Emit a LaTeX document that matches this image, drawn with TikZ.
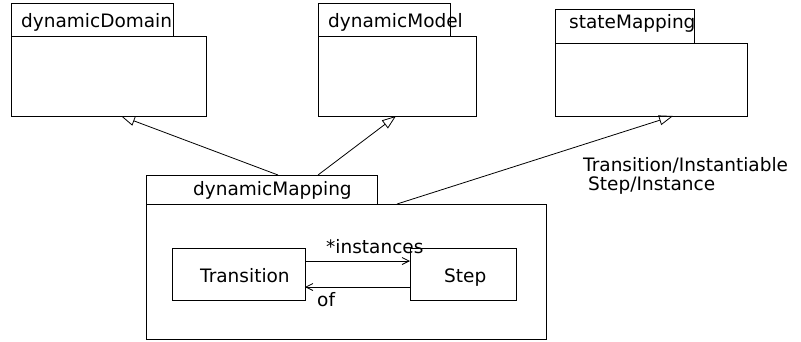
\documentclass[tikz,border=0pt]{standalone}
\usepackage{fontspec}
\setmainfont{DejaVu Sans}
\usetikzlibrary{arrows.meta}
\begin{document}
\begin{tikzpicture}[x=1pt,y=-1pt,
 box/.style={draw,line width=0.9pt,inner sep=0pt,outer sep=0pt,anchor=north west},
 lbl/.style={anchor=base west,inner sep=0pt,font=\fontsize{18.5}{20}\selectfont},
 gen/.style={line width=0.8pt,-{Triangle[open,length=14pt,width=10pt]}},
 nav/.style={line width=0.8pt,-{Straight Barb[length=7pt,width=7pt]}}]
\useasboundingbox (0,0) rectangle (801,341);
% upper packages
\node[box,minimum width=162pt,minimum height=33pt] (ddtab) at (11,3) {};
\node[box,minimum width=195pt,minimum height=80pt] (ddbody) at (11,36) {};
\node[box,minimum width=132pt,minimum height=33pt] (mtab) at (318,3) {};
\node[box,minimum width=158pt,minimum height=80pt] (mbody) at (318,36) {};
\node[box,minimum width=139pt,minimum height=34pt] (smtab) at (555,9) {};
\node[box,minimum width=192pt,minimum height=73pt] (smbody) at (555,43) {};
% lower package
\node[box,minimum width=231pt,minimum height=29pt] (dmtab) at (146,175) {};
\node[box,minimum width=400pt,minimum height=135.5pt] (dmbody) at (146,204) {};
\node[box,minimum width=133pt,minimum height=52pt] (trans) at (172,248) {};
\node[box,minimum width=106pt,minimum height=52pt] (step) at (410,248) {};
% labels
\node[lbl] (lddt) at (21,27) {dynamicDomain};
\node[lbl] (lmt) at (328,27) {dynamicModel};
\node[lbl] (lsmt) at (569,28) {stateMapping};
\node[lbl] (ldmt) at (193,195) {dynamicMapping};
\node[lbl] (ltrans) at (200,282) {Transition};
\node[lbl] (lstep) at (444,282) {Step};
\node[lbl] (linst) at (326,253) {*instances};
\node[lbl] (lof) at (317,306) {of};
\node[lbl] (lti) at (583,171) {Transition/Instantiable};
\node[lbl] (lsi) at (588,190) {Step/Instance};
% generalizations
\draw[gen] ([xshift=132pt]dmtab.north west) -- ([xshift=110pt]ddbody.south west);
\draw[gen] ([xshift=172pt]dmtab.north west) -- ([xshift=78pt]mbody.south west);
\draw[gen] ([xshift=251pt]dmbody.north west) -- ([xshift=118pt]smbody.south west);
% associations
\draw[nav] ([yshift=-13pt]trans.north east) -- ([yshift=-13pt]step.north west);
\draw[nav] ([yshift=13pt]step.south west) -- ([yshift=13pt]trans.south east);
\end{tikzpicture}
\end{document}
